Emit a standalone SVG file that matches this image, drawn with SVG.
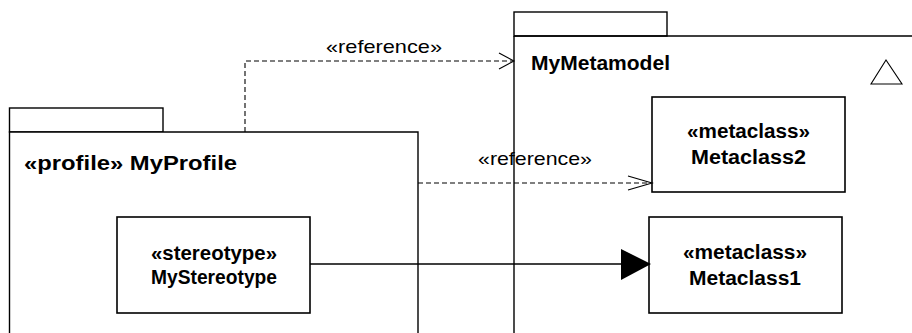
<svg xmlns="http://www.w3.org/2000/svg" width="912" height="333" viewBox="0 0 912 333">
<style>
.pkg{fill:#fff;stroke:#000;stroke-width:1.4}
.box{fill:#fff;stroke:#000;stroke-width:1.6}
.t{font-family:"Liberation Sans",Arial,sans-serif;fill:#000}
.b{font-weight:bold}
.dash{fill:none;stroke:#000;stroke-width:1.1;stroke-dasharray:5,3}
.open{fill:none;stroke:#000;stroke-width:1.1}
</style>
<rect width="912" height="333" fill="#fff"/>
<g id="MyMetamodel">
<rect class="pkg" x="514" y="12" width="153" height="24"/>
<path class="pkg" d="M514,36 H913 M514,36 V334" fill="none"/>
<text class="t b" x="531" y="70" font-size="20" textLength="139" lengthAdjust="spacingAndGlyphs">MyMetamodel</text>
<polygon points="886,60 871,84 902,84" fill="#fff" stroke="#000" stroke-width="1.1"/>
</g>
<g id="MyProfile">
<rect class="pkg" x="9.5" y="108" width="153.5" height="24"/>
<path class="pkg" d="M9.5,334 V132 H418 V334" fill="none"/>
<text class="t b" x="24" y="170" font-size="21" textLength="213" lengthAdjust="spacingAndGlyphs">«profile» MyProfile</text>
</g>
<g id="Metaclass2">
<rect class="box" x="652" y="97" width="193" height="95"/>
<text class="t b" x="748.5" y="138" font-size="19.5" text-anchor="middle" textLength="123" lengthAdjust="spacingAndGlyphs">«metaclass»</text>
<text class="t b" x="748.5" y="164" font-size="19.5" text-anchor="middle" textLength="115" lengthAdjust="spacingAndGlyphs">Metaclass2</text>
</g>
<g id="Metaclass1">
<rect class="box" x="649" y="217" width="193" height="96"/>
<text class="t b" x="745" y="259" font-size="19.5" text-anchor="middle" textLength="124" lengthAdjust="spacingAndGlyphs">«metaclass»</text>
<text class="t b" x="745" y="285" font-size="19.5" text-anchor="middle" textLength="112" lengthAdjust="spacingAndGlyphs">Metaclass1</text>
</g>
<g id="MyStereotype">
<rect class="box" x="117" y="217" width="193" height="96"/>
<text class="t b" x="214" y="260" font-size="19.5" text-anchor="middle" textLength="126" lengthAdjust="spacingAndGlyphs">«stereotype»</text>
<text class="t b" x="214" y="284" font-size="19.5" text-anchor="middle" textLength="126" lengthAdjust="spacingAndGlyphs">MyStereotype</text>
</g>
<g id="connectors">
<path class="dash" d="M245,132 V61 H513"/>
<path class="open" d="M499,53 L514,61 L499,69"/>
<text class="t" x="384" y="53" font-size="19" text-anchor="middle" textLength="116" lengthAdjust="spacingAndGlyphs">«reference»</text>
<path class="dash" d="M418,183 H651"/>
<path class="open" d="M628,176 L652,183 L628,190"/>
<text class="t" x="535" y="165" font-size="19" text-anchor="middle" textLength="114" lengthAdjust="spacingAndGlyphs">«reference»</text>
<path d="M310,264 H625" stroke="#000" stroke-width="1.7" fill="none"/>
<polygon points="621,249 651,264 621,280" fill="#000"/>
</g>
</svg>
